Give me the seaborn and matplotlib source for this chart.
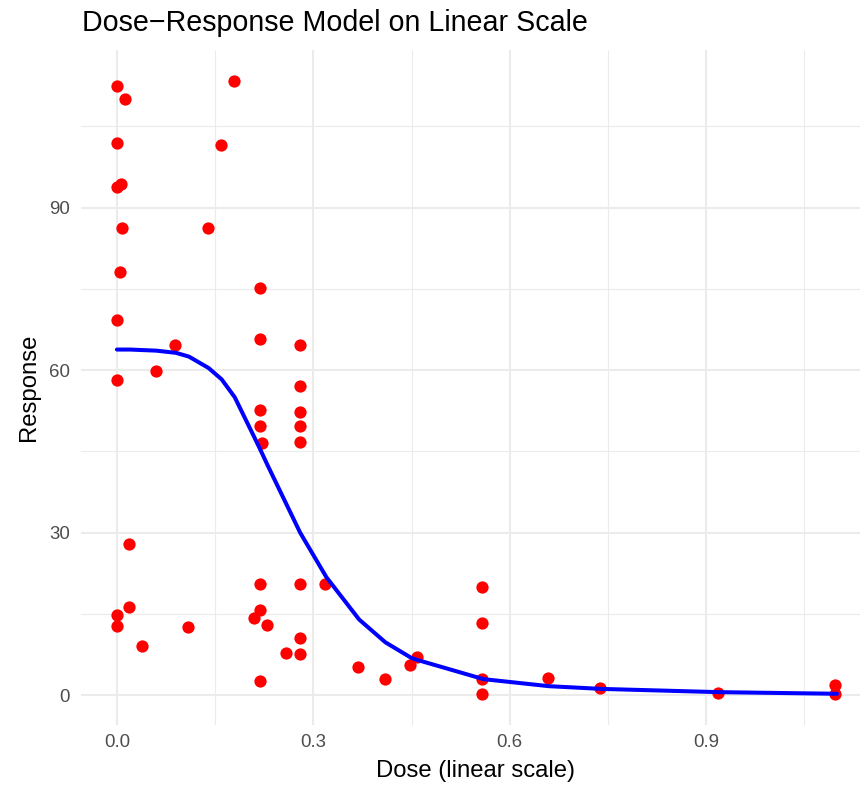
import numpy as np
import pandas as pd
import matplotlib
matplotlib.use("Agg")
import matplotlib.pyplot as plt
from matplotlib.ticker import MultipleLocator
import seaborn as sns

# Observed responses
dose = [0, 0, 0, 0, 0, 0, 0,
        0.012, 0.006, 0.008, 0.004,
        0.019, 0.019, 0.039, 0.060, 0.089, 0.109, 0.139, 0.159, 0.179,
        0.209, 0.219, 0.219, 0.219, 0.219, 0.221, 0.219, 0.219, 0.219, 0.229,
        0.259, 0.279, 0.279, 0.279, 0.279, 0.279, 0.279, 0.279, 0.279,
        0.318, 0.369, 0.409, 0.448, 0.459,
        0.558, 0.558, 0.558, 0.558, 0.659, 0.738, 0.918, 1.097, 1.097]
response = [112.5, 101.9, 93.7, 69.2, 58.2, 14.8, 12.8,
            110.0, 94.4, 86.2, 78.1,
            28.0, 16.3, 9.1, 59.8, 64.6, 12.6, 86.2, 101.6, 113.4,
            14.3, 75.1, 65.8, 52.7, 49.7, 46.5, 20.5, 15.8, 2.7, 13.0,
            7.8, 64.6, 57.1, 52.2, 49.7, 46.8, 20.5, 10.6, 7.6,
            20.6, 5.2, 3.1, 5.6, 7.0,
            20.0, 13.3, 3.1, 0.2, 3.2, 1.3, 0.4, 1.9, 0.3]

# Fitted model curve
fit_dose = [0, 0.02, 0.04, 0.06, 0.09, 0.11, 0.14, 0.16, 0.18, 0.21, 0.22,
            0.23, 0.26, 0.28, 0.32, 0.37, 0.41, 0.45, 0.46, 0.56, 0.66,
            0.74, 0.92, 1.10]
fit_response = [63.8, 63.8, 63.7, 63.6, 63.2, 62.5, 60.4, 58.3, 55.0, 47.6,
                45.1, 42.5, 35.0, 30.0, 21.8, 14.0, 9.8, 6.9, 6.5, 3.0, 1.7,
                1.2, 0.6, 0.3]

x_ticks = [0.0, 0.3, 0.6, 0.9]
y_ticks = [0, 30, 60, 90]

obs = pd.DataFrame({"dose": dose, "response": response})
fit = pd.DataFrame({"dose": fit_dose, "response": fit_response})

sns.set_theme(style="white")
plt.rcParams["font.family"] = ["Liberation Sans", "DejaVu Sans"]

W, H = 860, 789
fig = plt.figure(figsize=(W / 100, H / 100), dpi=100)
# panel runs slightly past the right edge of the canvas
left, right, top, bottom = 81, 871, 50, 725
ax = fig.add_axes([left / W, 1 - bottom / H, (right - left) / W, (bottom - top) / H])

grid_col = "#EBEBEB"
ax.set_facecolor("white")
for s in ax.spines.values():
    s.set_visible(False)

sns.scatterplot(data=obs, x="dose", y="response", color="#FF0000", s=78,
                linewidth=0, ax=ax, zorder=3)
sns.lineplot(data=fit, x="dose", y="response", color="#0000FF", linewidth=2.9,
             sort=False, estimator=None, ax=ax, zorder=4)

xr = max(dose) - min(dose)
yr = max(response) - min(response)
ax.set_xlim(min(dose) - 0.05 * xr, max(dose) + 0.05 * xr)
ax.set_ylim(min(response) - 0.05 * yr, max(response) + 0.05 * yr)

ax.set_xticks(x_ticks)
ax.set_xticklabels([f"{v:.1f}" for v in x_ticks])
ax.set_yticks(y_ticks)
ax.set_yticklabels([str(v) for v in y_ticks])
ax.xaxis.set_minor_locator(MultipleLocator(0.15))
ax.yaxis.set_minor_locator(MultipleLocator(15))
ax.grid(which="major", color=grid_col, linewidth=1.5, zorder=0)
ax.grid(which="minor", color=grid_col, linewidth=0.8, zorder=0)
ax.set_axisbelow(True)
ax.tick_params(which="both", length=0)
ax.tick_params(axis="x", pad=6.5, labelsize=13.4, labelcolor="#4D4D4D")
ax.tick_params(axis="y", pad=8, labelsize=13.4, labelcolor="#4D4D4D")

ax.set_xlabel("")
ax.set_ylabel("")
fig.text((left + right) / 2 / W, 1 - 777 / H, "Dose (linear scale)",
         ha="center", va="baseline", fontsize=17.2, color="black")
fig.text(29.5 / W, 1 - (top + bottom) / 2 / H, "Response", rotation=90,
         ha="center", va="center", fontsize=17.2, color="black")
fig.text(82 / W, 1 - 31 / H, "Dose\u2212Response Model on Linear Scale",
         ha="left", va="baseline", fontsize=20.6, color="black")

fig.savefig("out.png", dpi=100)
